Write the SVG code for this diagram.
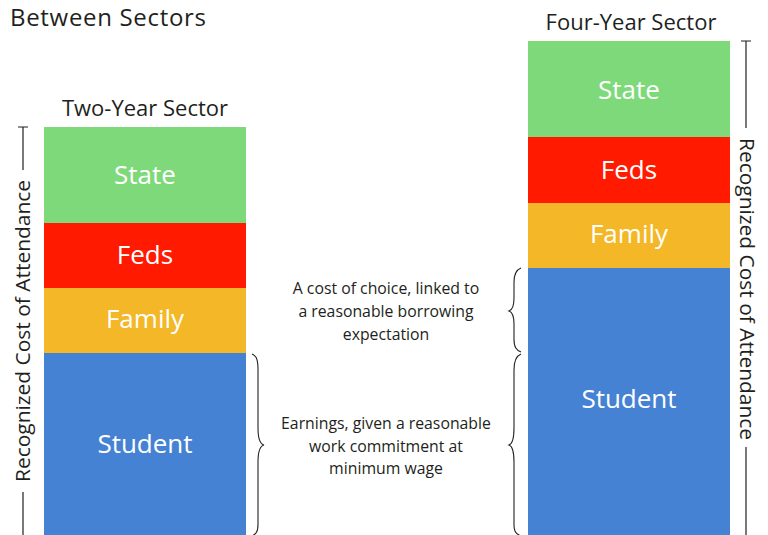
<svg xmlns="http://www.w3.org/2000/svg" width="768" height="535" viewBox="0 0 768 535">
<style>
text{font-family:"Open Sans","Liberation Sans",sans-serif;}
.ttl{font-size:22px;fill:#231f20;text-anchor:middle;}
.lbl{font-size:26px;fill:#ffffff;text-anchor:middle;dominant-baseline:central;}
.note{font-size:15.8px;fill:#231f20;text-anchor:middle;}
.axis{font-size:20px;fill:#231f20;text-anchor:middle;}
.ln{stroke:#231f20;stroke-width:1.2;fill:none;}
.br{stroke:#231f20;stroke-width:1.1;fill:none;}
</style>
<rect width="768" height="535" fill="#ffffff"/>
<text x="10" y="25.5" style="font-size:24px;fill:#231f20" textLength="196" lengthAdjust="spacing">Between Sectors</text>

<g id="two-year">
<text class="ttl" x="145" y="116">Two-Year Sector</text>
<rect x="44" y="127" width="202" height="96" fill="#7ed97a"/>
<rect x="44" y="223" width="202" height="65" fill="#ff1a00"/>
<rect x="44" y="288" width="202" height="65" fill="#f4b727"/>
<rect x="44" y="353" width="202" height="182" fill="#4682d3"/>
<text class="lbl" x="145" y="174">State</text>
<text class="lbl" x="145" y="254">Feds</text>
<text class="lbl" x="145" y="318">Family</text>
<text class="lbl" x="145" y="443">Student</text>
</g>

<g id="four-year">
<text class="ttl" x="631" y="30">Four-Year Sector</text>
<rect x="528" y="41" width="202" height="96" fill="#7ed97a"/>
<rect x="528" y="137" width="202" height="66" fill="#ff1a00"/>
<rect x="528" y="203" width="202" height="65" fill="#f4b727"/>
<rect x="528" y="268" width="202" height="267" fill="#4682d3"/>
<text class="lbl" x="629" y="89">State</text>
<text class="lbl" x="629" y="169">Feds</text>
<text class="lbl" x="629" y="233">Family</text>
<text class="lbl" x="629" y="398">Student</text>
</g>

<g id="left-axis">
<path class="ln" d="M18,127 H28 M23,127 V170 M23,492 V535"/>
<text class="axis" transform="translate(30,331) rotate(-90)" textLength="302" lengthAdjust="spacingAndGlyphs">Recognized Cost of Attendance</text>
</g>

<g id="right-axis">
<path class="ln" d="M741,41 H751 M746,41 V128 M746,447 V535"/>
<text class="axis" transform="translate(740,289) rotate(90)" textLength="302" lengthAdjust="spacingAndGlyphs">Recognized Cost of Attendance</text>
</g>

<g id="connectors">
<path class="br" d="M252,354 C257,356 258,361 258,370 L258,428 C258,439 260,444 264,445 C260,446 258,451 258,462 L258,524 C258,532 256,534 252,536"/>
<path class="br" d="M521,268 C516,270 514,274 514,282 L514,298 C514,306 512,310 509,311 C512,312 514,316 514,324 L514,339 C514,347 516,350 521,352"/>
<path class="br" d="M521,354 C516,356 514,361 514,370 L514,428 C514,439 512,444 509,445 C512,446 514,451 514,462 L514,524 C514,532 516,534 521,536"/>
</g>

<g id="note-choice">
<text class="note" x="386" y="294">A cost of choice, linked to</text>
<text class="note" x="386" y="317">a reasonable borrowing</text>
<text class="note" x="386" y="340">expectation</text>
</g>
<g id="note-earnings">
<text class="note" x="386" y="429">Earnings, given a reasonable</text>
<text class="note" x="386" y="452">work commitment at</text>
<text class="note" x="386" y="474">minimum wage</text>
</g>
</svg>
